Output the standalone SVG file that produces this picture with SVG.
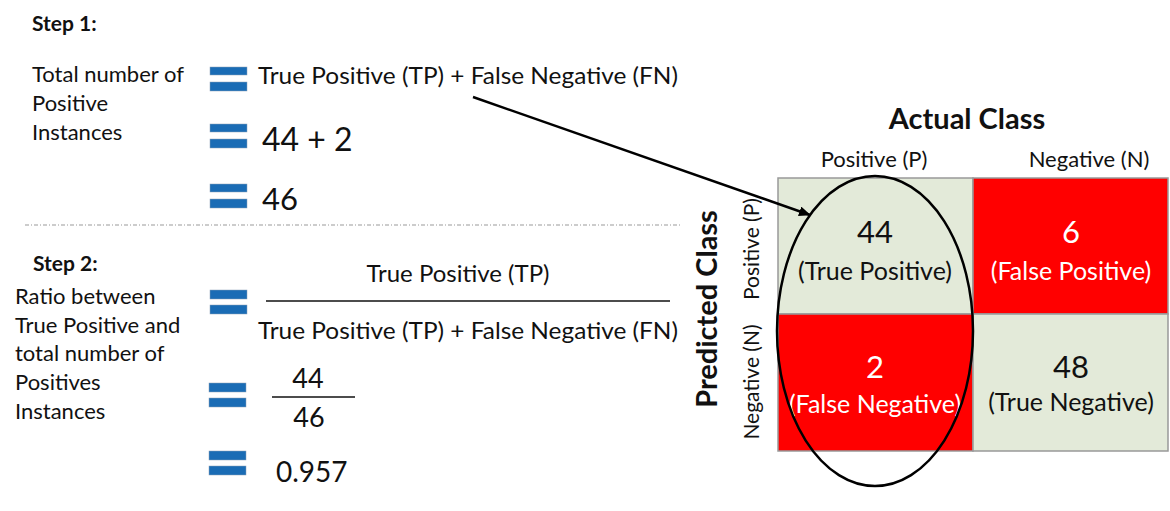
<svg xmlns="http://www.w3.org/2000/svg" width="1170" height="511" viewBox="0 0 1170 511">
<defs>
<style>
text{font-family:Lato,"Open Sans","Liberation Sans",sans-serif;fill:#111}
.b{font-weight:bold}
.eq rect{fill:#1a6cb5;stroke:#8aa0b8;stroke-width:0.5}
.cellg{fill:#e3ead9;stroke:#999;stroke-width:1.5}
.cellr{fill:#ff0000;stroke:#999;stroke-width:1.5}
.w{fill:#fff}
.mid{text-anchor:middle}
</style>
<marker id="ah" viewBox="0 0 12 10" refX="11" refY="5" markerWidth="12" markerHeight="10" markerUnits="userSpaceOnUse" orient="auto">
<path d="M0,0 L12,5 L0,10 Z" fill="#000"/>
</marker>
</defs>
<rect width="1170" height="511" fill="#fff"/>

<g id="step1">
<text x="32" y="31" class="b" font-size="21">Step 1:</text>
<text x="32" y="82" font-size="22">Total number of</text>
<text x="32" y="111" font-size="22">Positive</text>
<text x="32" y="140" font-size="22">Instances</text>
<g class="eq"><rect x="210" y="67" width="37" height="8"/><rect x="210" y="82" width="37" height="9"/></g>
<text x="258" y="84" font-size="23" textLength="420" lengthAdjust="spacingAndGlyphs">True Positive (TP) + False Negative (FN)</text>
<g class="eq"><rect x="210" y="124" width="37" height="8"/><rect x="210" y="139" width="37" height="9"/></g>
<text x="262" y="151" font-size="32">44 + 2</text>
<g class="eq"><rect x="210" y="184" width="37" height="8"/><rect x="210" y="199" width="37" height="9"/></g>
<text x="262" y="210" font-size="31">46</text>
</g>

<line x1="25" y1="225" x2="680" y2="225" stroke="#999" stroke-width="1" stroke-dasharray="4 2 1 2"/>

<g id="step2">
<text x="33" y="271" class="b" font-size="21">Step 2:</text>
<text x="15" y="304" font-size="22">Ratio between</text>
<text x="15" y="333" font-size="22">True Positive and</text>
<text x="15" y="361" font-size="22">total number of</text>
<text x="15" y="390" font-size="22">Positives</text>
<text x="15" y="419" font-size="22">Instances</text>
<g class="eq"><rect x="210" y="290" width="37" height="9"/><rect x="210" y="305" width="37" height="9"/></g>
<text x="458" y="282" font-size="24" class="mid">True Positive (TP)</text>
<line x1="266" y1="301" x2="670" y2="301" stroke="#111" stroke-width="1.5"/>
<text x="258" y="339" font-size="23" textLength="420" lengthAdjust="spacingAndGlyphs">True Positive (TP) + False Negative (FN)</text>
<g class="eq"><rect x="209" y="383" width="37" height="9"/><rect x="209" y="398" width="37" height="9"/></g>
<text x="308" y="388" font-size="27" class="mid">44</text>
<line x1="272" y1="397" x2="355" y2="397" stroke="#111" stroke-width="1.5"/>
<text x="309" y="427" font-size="27" class="mid">46</text>
<g class="eq"><rect x="209" y="451" width="37" height="9"/><rect x="209" y="466" width="37" height="9"/></g>
<text x="276" y="482" font-size="28">0.957</text>
</g>

<g id="matrix">
<text x="967" y="129" class="b mid" font-size="29">Actual Class</text>
<text x="874" y="167" class="mid" font-size="22">Positive (P)</text>
<text x="1089" y="167" class="mid" font-size="22">Negative (N)</text>
<text transform="translate(717,309) rotate(-90)" class="b mid" font-size="29">Predicted Class</text>
<text transform="translate(759,249) rotate(-90)" class="mid" font-size="21">Positive (P)</text>
<text transform="translate(759,382) rotate(-90)" class="mid" font-size="21">Negative (N)</text>
<g id="tp"><rect x="778" y="178" width="195" height="136" class="cellg"/>
<text x="875" y="243" class="mid" font-size="31">44</text>
<text x="875" y="280" class="mid" font-size="25">(True Positive)</text></g>
<g id="fp"><rect x="973" y="178" width="195" height="136" class="cellr"/>
<text x="1071" y="243" class="mid w" font-size="31">6</text>
<text x="1071" y="280" class="mid w" font-size="25">(False Positive)</text></g>
<g id="fn"><rect x="778" y="314" width="195" height="137" class="cellr"/>
<text x="875" y="378" class="mid w" font-size="31">2</text>
<text x="875" y="413" class="mid w" font-size="25">(False Negative)</text></g>
<g id="tn"><rect x="973" y="314" width="195" height="137" class="cellg"/>
<text x="1071" y="378" class="mid" font-size="31">48</text>
<text x="1071" y="411" class="mid" font-size="25">(True Negative)</text></g>
<ellipse id="circle" cx="875" cy="331" rx="98" ry="155" fill="none" stroke="#000" stroke-width="2.5"/>
</g>

<g id="connectors">
<line x1="473" y1="97" x2="810" y2="215" stroke="#000" stroke-width="2.5" marker-end="url(#ah)"/>
</g>
</svg>
